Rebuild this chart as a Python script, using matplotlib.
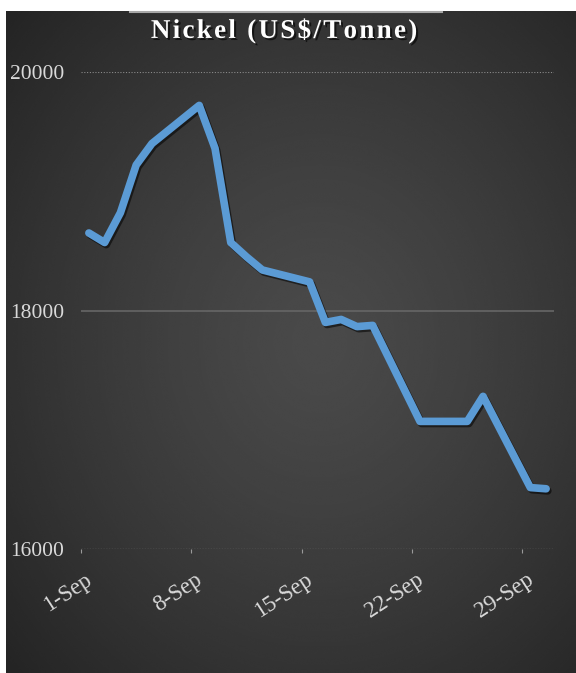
import numpy as np
import matplotlib
matplotlib.use("Agg")
import matplotlib.pyplot as plt
import matplotlib.patheffects as pe
from matplotlib.lines import Line2D

# Nickel price, September (trading days only)
days = [1, 2, 3, 4, 5, 8, 9, 10, 11, 12, 15, 16, 17, 18, 19,
        22, 23, 24, 25, 26, 29, 30]
prices = [18650, 18570, 18820, 19220, 19400, 19720, 19360, 18570, 18450, 18340,
          18240, 17900, 17925, 17865, 17875,
          17070, 17070, 17070, 17070, 17280, 16515, 16505]

label_days = [1, 8, 15, 22, 29]
label_text = ["1-Sep", "8-Sep", "15-Sep", "22-Sep", "29-Sep"]
y_ticks = [16000, 18000, 20000]

W, H = 576, 673
fig = plt.figure(figsize=(W / 100, H / 100), dpi=100)
fig.patch.set_facecolor("white")

# dark panel with a soft radial glow in the middle
px0, py0 = 6 / W, 0
pw, ph = 1 - px0, (H - 11) / H
bg = fig.add_axes([px0, py0, pw, ph], zorder=0)
gx, gy = np.meshgrid(np.linspace(0, 1, 400), np.linspace(0, 1, 460))
r = np.sqrt(((gx - 0.55) / 0.75) ** 2 + ((gy - 0.50) / 0.75) ** 2)
shade = 0.29 - 0.15 * np.clip(r, 0, 1) ** 1.3
bg.imshow(shade, cmap="gray", vmin=0, vmax=1, extent=[0, 1, 0, 1],
          aspect="auto", interpolation="bicubic")
bg.axis("off")

fig.add_artist(Line2D([130 / W, 442 / W], [1 - 12 / H, 1 - 12 / H],
                      color="#a8a8a8", lw=1.5))

ax = fig.add_axes([81 / W, 1 - 549 / H, (554 - 81) / W, (549 - 72) / H], zorder=1)
ax.patch.set_alpha(0)

ax.plot(days, prices, color="#5b9bd5", lw=5.5, solid_joinstyle="round",
        solid_capstyle="round",
        path_effects=[pe.SimpleLineShadow(offset=(1.2, -1.5), shadow_color="black",
                                          alpha=0.55),
                      pe.Normal()], zorder=3)

ax.set_xlim(0.5, 30.5)
ax.set_ylim(16000, 20000)

# gridlines
ax.axhline(20000, color="#8a8a8a", lw=0.8, ls=(0, (1, 1.5)), zorder=1)
ax.axhline(18000, color="#666666", lw=1.2, zorder=1)
ax.axhline(16000, color="#9a9a9a", lw=0.9, ls=(0, (1, 1.2)), zorder=2)

for s in ax.spines.values():
    s.set_visible(False)

ax.set_yticks(y_ticks)
ax.set_yticklabels([str(v) for v in y_ticks], fontsize=15.5, color="#d9d9d9",
                   family="Liberation Serif")
ax.tick_params(axis="y", length=0, pad=12)

ax.set_xticks(np.arange(0.5, 31, 7))
ax.set_xticklabels([])
ax.tick_params(axis="x", length=3, color="#9a9a9a", width=0.8)

for d, t in zip(label_days, label_text):
    ax.annotate(t, xy=(d, 16000), xycoords="data", xytext=(1, -21),
                textcoords="offset points", ha="right", va="center",
                rotation=33, rotation_mode="anchor", fontsize=16.5,
                color="#d9d9d9", family="Liberation Serif")

title = "\u200a".join("Nickel (US$/Tonne)")
fig.text(284 / W, 1 - 31 / H, title, ha="center", va="center", fontsize=19.5,
         fontweight="bold", color="white", family="Liberation Serif",
         path_effects=[pe.withSimplePatchShadow(offset=(1.5, -1.5),
                                                shadow_rgbFace="black", alpha=0.6)])

fig.savefig("out.png", dpi=100)
